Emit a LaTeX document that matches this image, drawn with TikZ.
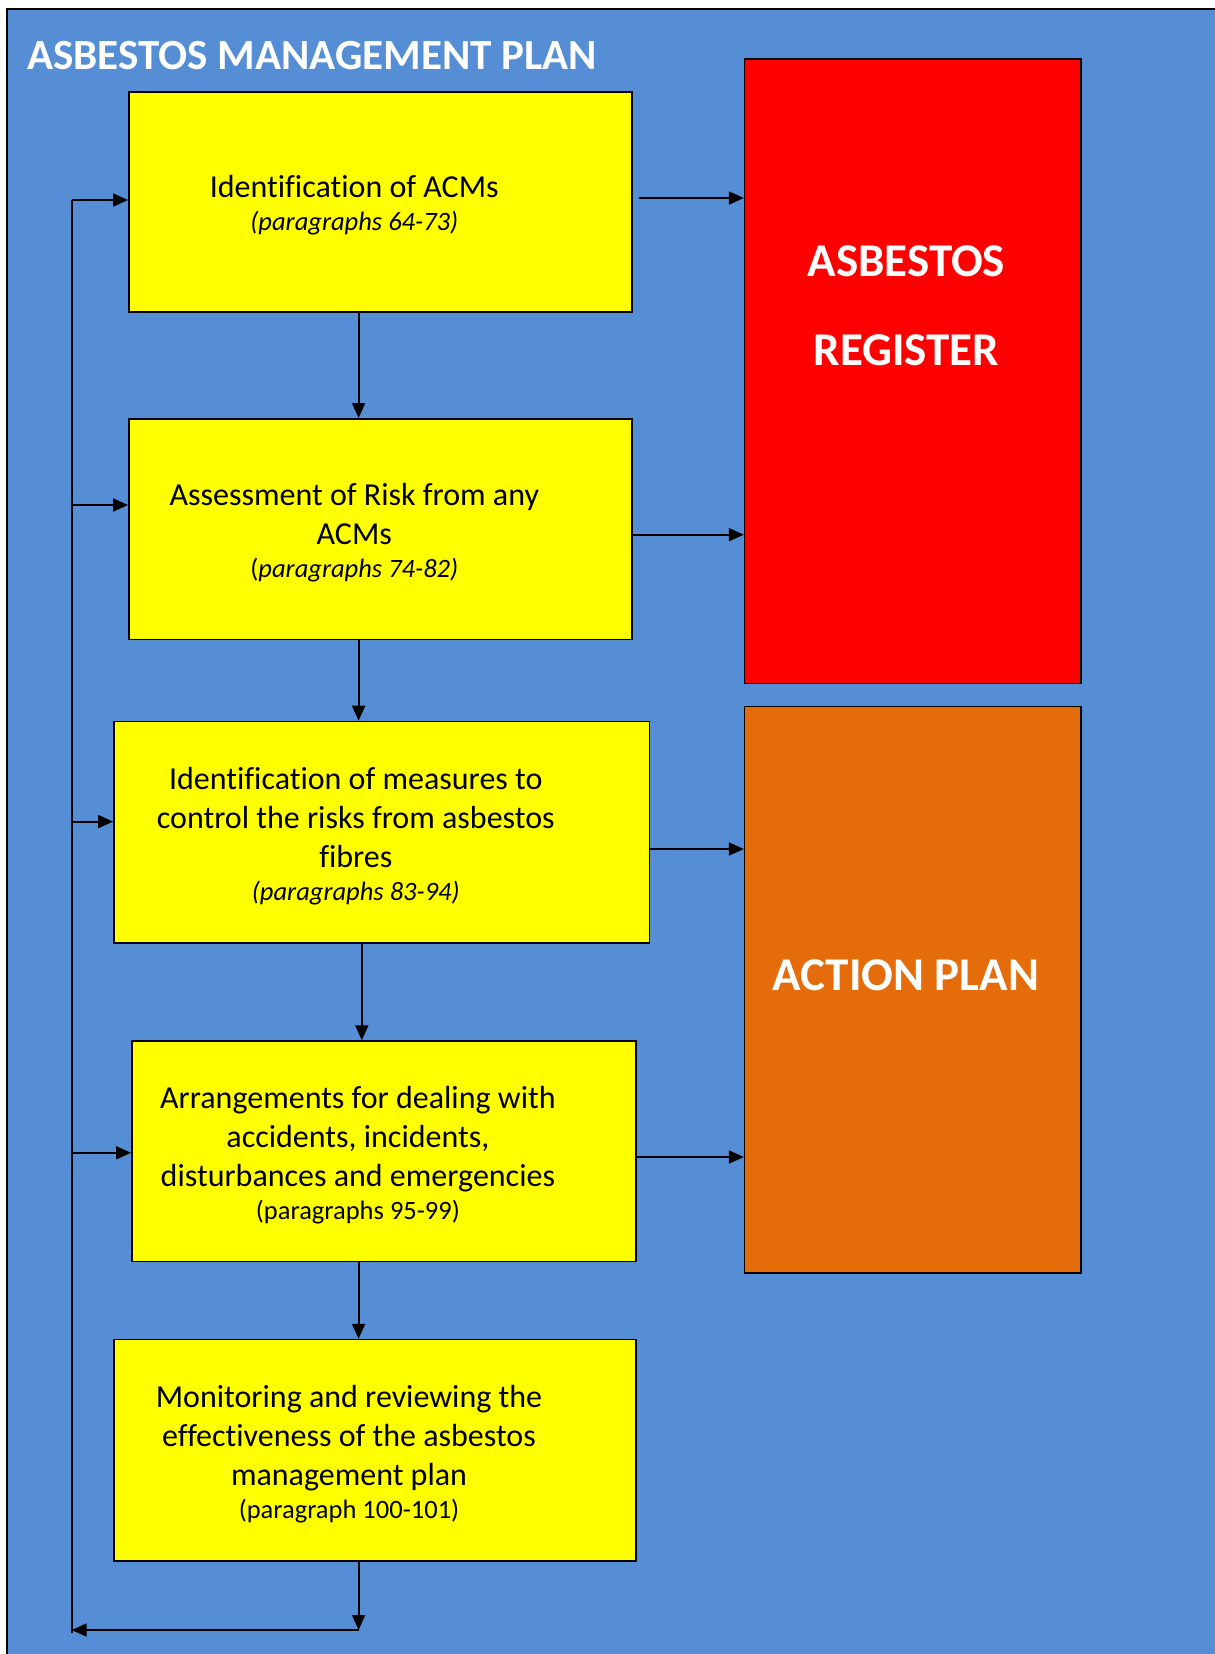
\documentclass[tikz,border=0pt]{standalone}
\usepackage{fontspec}
\setmainfont{Carlito}[Ligatures={TeX,NoCommon}]
\usetikzlibrary{arrows.meta}

\definecolor{planblue}{RGB}{85,142,213}
\definecolor{stageyellow}{RGB}{255,255,0}
\definecolor{registerred}{RGB}{255,0,0}
\definecolor{actionorange}{RGB}{228,108,10}

\newcommand{\refsize}{\fontsize{26.5}{32}\selectfont}

\tikzset{
    stage/.style={rectangle, draw=black, fill=stageyellow, line width=1.5pt, inner sep=0pt},
    stagetext/.style={align=center, font=\fontsize{32}{39}\selectfont, xshift=-26pt, yshift=-3.5pt},
    bigbox/.style={rectangle, draw=black, line width=1.5pt, inner sep=0pt, minimum width=336.4},
    bigtext/.style={text=white, font=\fontsize{47}{56}\selectfont\bfseries},
    flow/.style={->, line width=1.8pt}
}

\begin{document}
\begin{tikzpicture}[x=1pt, y=-1pt, >={Triangle[length=15pt,width=13pt]}]
    \useasboundingbox (0,0) rectangle (1215,1654);
    \draw[fill=planblue, line width=1.5pt] (7,9) rectangle (1240,1680);

    \node[text=white, font=\fontsize{43}{50}\selectfont\bfseries] (title) at (312,56) {ASBESTOS MANAGEMENT PLAN};

    % the five stages
    \node[stage, minimum width=503, minimum height=220.4,
        label={[stagetext]center:{Identification of ACMs\\[-6pt]{\refsize\itshape(paragraphs 64-73)}}}] (ident) at (380.3,202) {};
    \node[stage, minimum width=503, minimum height=220.5,
        label={[stagetext]center:{Assessment of Risk from any\\ACMs\\[-6pt]{\refsize(\textit{paragraphs 74-82)}}}}] (assess) at (380.3,529) {};
    \node[stage, minimum width=535.8, minimum height=221.5,
        label={[stagetext]center:{Identification of measures to\\control the risks from asbestos\\fibres\\[-6pt]{\refsize\itshape(paragraphs 83-94)}}}] (measures) at (381.8,832.2) {};
    \node[stage, minimum width=504.2, minimum height=220.4,
        label={[stagetext]center:{Arrangements for dealing with\\accidents, incidents,\\disturbances and emergencies\\[-6pt]{\refsize(paragraphs 95-99)}}}] (arrange) at (383.9,1151.2) {};
    \node[stage, minimum width=522, minimum height=221.5,
        label={[stagetext]center:{Monitoring and reviewing the\\effectiveness of the asbestos\\management plan\\[-6pt]{\refsize(paragraph 100-101)}}}] (monitor) at (375,1450.3) {};

    % register and action plan
    \node[bigbox, fill=registerred, minimum height=624.4] (register) at (912.8,371.2) {};
    \node[bigtext] (register-a) at (906.5,261.6) {ASBESTOS};
    \node[bigtext] (register-b) at (906.5,350) {REGISTER};
    \node[bigbox, fill=actionorange, minimum height=566.4] (action) at (912.8,989.8) {};
    \node[bigtext] (action-txt) at (906,975.6) {ACTION PLAN};

    % down the middle
    \coordinate (spine) at (358.6,0);
    \coordinate (spine-b) at (361.8,0);
    \draw[flow] (ident.south -| spine) -- (assess.north -| spine);
    \draw[flow] (assess.south -| spine) -- (measures.north -| spine);
    \draw[flow] (measures.south -| spine-b) -- (arrange.north -| spine-b);
    \draw[flow] (arrange.south -| spine) -- (monitor.north -| spine);

    % across to the right
    \coordinate (ident-out) at ([shift={(6,-4)}]ident.east);
    \coordinate (assess-out) at ([shift={(0,5.7)}]assess.east);
    \coordinate (measures-out) at ([shift={(0,16.8)}]measures.east);
    \coordinate (arrange-out) at ([shift={(0,5.8)}]arrange.east);
    \draw[flow] (ident-out) -- (ident-out -| register.west);
    \draw[flow] (assess-out) -- (assess-out -| register.west);
    \draw[flow] (measures-out) -- (measures-out -| action.west);
    \draw[flow] (arrange-out) -- (arrange-out -| action.west);

    % feedback loop
    \coordinate (ret) at (358.6,1630);
    \coordinate (loop-top) at (71.7,200);
    \coordinate (loop-bot) at (71.7,1633);
    \coordinate (loop-assess) at (71.7,505);
    \coordinate (loop-measures) at (71.7,821.6);
    \coordinate (loop-arrange) at (71.7,1152.8);
    \draw[flow] (monitor.south -| spine) -- (ret);
    \draw[flow] (ret) -- (ret -| loop-bot);
    \draw[line width=1.8pt] (loop-top) -- (loop-bot);
    \draw[flow] (loop-top) -- (loop-top -| ident.west);
    \draw[flow] (loop-assess) -- (loop-assess -| assess.west);
    \draw[flow] (loop-measures) -- (loop-measures -| measures.west);
    \draw[flow] (loop-arrange) -- (loop-arrange -| arrange.west);
\end{tikzpicture}
\end{document}
